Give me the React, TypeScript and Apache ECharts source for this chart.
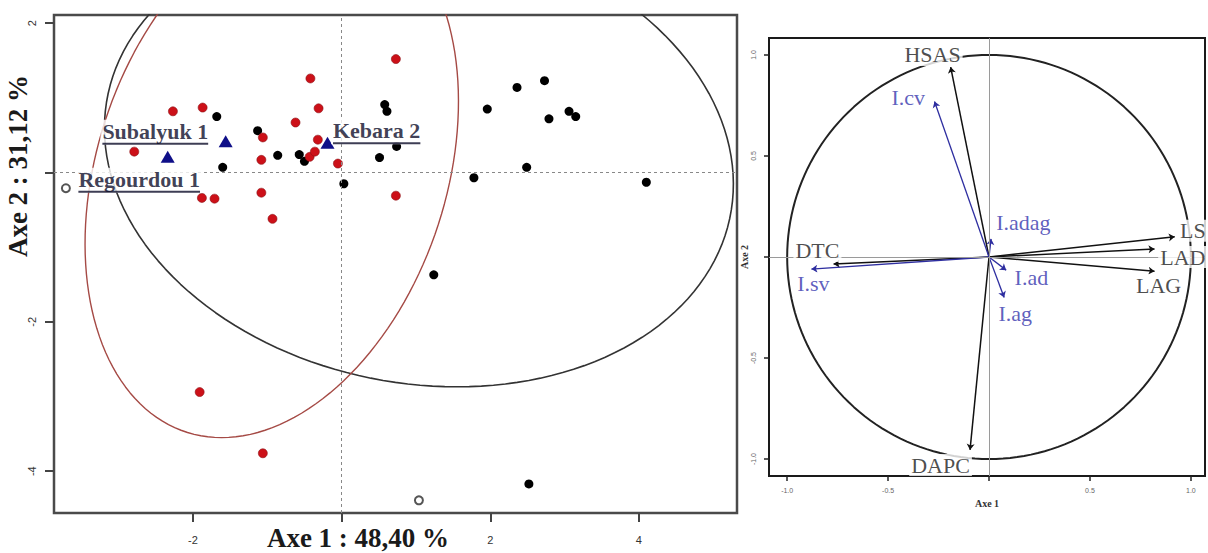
import React, { useEffect, useRef } from 'react';
import * as echarts from 'echarts';

// ---------- Left panel: individuals (Axe 1 x Axe 2) ----------
const X_TICKS = [-2, 0, 2, 4];
const X_TICK_LABELS = [-2, 2, 4];
const Y_TICKS = [-4, -2, 0, 2];
const Y_TICK_LABELS = [-4, -2, 2];

const blackPoints: number[][] = [
  [-1.13, 0.56], [-0.86, 0.23], [-0.57, 0.24], [-0.5, 0.15], [-1.6, 0.07],
  [0.51, 0.2], [0.03, -0.15], [-1.68, 0.75], [0.58, 0.91], [0.61, 0.82],
  [0.74, 0.35], [1.96, 0.85], [2.36, 1.14], [2.73, 1.23], [2.79, 0.72],
  [3.06, 0.82], [3.15, 0.75], [2.49, 0.07], [1.78, -0.07], [4.1, -0.13],
  [1.24, -1.37], [2.52, -4.17],
];
const redPoints: number[][] = [
  [-2.79, 0.28], [-2.27, 0.82], [-1.87, 0.87], [-1.88, -0.34], [-1.71, -0.35],
  [-1.08, -0.27], [-0.93, -0.62], [-1.08, 0.17], [-1.06, 0.47], [-0.62, 0.67],
  [-0.42, 1.26], [-0.31, 0.86], [-0.32, 0.44], [-0.43, 0.21], [-0.36, 0.28],
  [-0.05, 0.12], [0.73, 1.52], [0.73, -0.31], [-1.91, -2.94], [-1.06, -3.76],
];
const greyPoints: number[][] = [[-3.71, -0.21], [1.04, -4.39]];
const trianglePoints: number[][] = [[-2.34, 0.21], [-1.56, 0.42], [-0.19, 0.4]];

// labelled specimens: name and the point they belong to
const specimenNames = ['Subalyuk 1', 'Kebara 2', 'Regourdou 1'];
const specimenAnchors: number[][] = [trianglePoints[1], trianglePoints[2], greyPoints[0]];

// ellipse shape parameters (centre, half-width at centre, half-height, shear)
const blackEllipse = { cx: 1.04, cy: 0.22, rx: 4.2, ry: 3.09, shear: -0.166 };
const redEllipse = { cx: -0.94, cy: 0.0, rx: 2.42, ry: 3.55, shear: 0.19 };

// ---------- Right panel: correlation circle ----------
const C_TICKS = [-1, -0.5, 0, 0.5, 1];
const C_TICK_LABELS = [-1, -0.5, 0.5, 1];

const varNames = ['HSAS', 'LS', 'LAD', 'LAG', 'DTC', 'DAPC'];
const varX = [-0.19, 0.92, 0.82, 0.82, -0.77, -0.094];
const varY = [0.94, 0.1, 0.04, -0.07, -0.035, -0.955];
const varLabelX = [-0.28, 1.01, 0.96, 0.84, -0.85, -0.24];
const varLabelY = [1.0, 0.13, 0.0, -0.14, 0.03, -1.03];

const idxNames = ['I.cv', 'I.adag', 'I.sv', 'I.ad', 'I.ag'];
const idxX = [-0.27, 0.01, -0.88, 0.085, 0.075];
const idxY = [0.77, 0.09, -0.06, -0.065, -0.2];
const idxLabelX = [-0.4, 0.17, -0.87, 0.21, 0.13];
const idxLabelY = [0.79, 0.17, -0.13, -0.1, -0.28];

const CIRCLE_RADIUS = 1;

function ellipseLine(e: { cx: number; cy: number; rx: number; ry: number; shear: number }) {
  const pts: number[][] = [];
  const n = 160;
  for (let i = 0; i <= n; i++) {
    const t = (i / n) * Math.PI * 2;
    pts.push([e.cx + e.rx * Math.cos(t) + e.shear * e.ry * Math.sin(t), e.cy + e.ry * Math.sin(t)]);
  }
  return pts;
}

function circleLine(r: number) {
  const pts: number[][] = [];
  const n = 180;
  for (let i = 0; i <= n; i++) {
    const t = (i / n) * Math.PI * 2;
    pts.push([r * Math.cos(t), r * Math.sin(t)]);
  }
  return pts;
}

const SERIF = '"Liberation Serif", "DejaVu Serif", serif';
const SANS = '"Liberation Sans", Arial, sans-serif';

export default function App() {
  const ref = useRef<HTMLDivElement>(null);

  useEffect(() => {
    if (!ref.current) return;
    const chart = echarts.init(ref.current, undefined, { renderer: 'svg' });

    const labelCfg = [
      { position: 'left', distance: 15, offset: [0, -9] },
      { position: 'right', distance: 3, offset: [0, -11] },
      { position: 'right', distance: 10, offset: [0, -8] },
    ];

    const specimenData = specimenNames.map((name, i) => ({
      name,
      value: specimenAnchors[i],
      label: {
        show: true,
        position: labelCfg[i].position,
        distance: labelCfg[i].distance,
        offset: labelCfg[i].offset,
      },
    }));

    const option: any = {
      animation: false,
      backgroundColor: '#ffffff',
      grid: [
        { left: 54, top: 15, width: 683, height: 498, show: true, borderColor: '#4a4a4a', borderWidth: 2.5, backgroundColor: 'transparent' },
        { left: 769, top: 38, width: 436, height: 438, show: true, borderColor: '#1a1a1a', borderWidth: 2, backgroundColor: 'transparent' },
      ],
      xAxis: [
        {
          gridIndex: 0, type: 'value', min: -3.87, max: 5.32, position: 'bottom',
          axisLine: { show: false, onZero: false },
          splitLine: { show: false },
          axisTick: { show: true, inside: false, length: 9, customValues: X_TICKS, lineStyle: { color: '#444', width: 2 } },
          axisLabel: { customValues: X_TICK_LABELS, margin: 21, fontSize: 11, color: '#333', fontFamily: SANS },
        },
        {
          gridIndex: 1, type: 'value', min: -1.09, max: 1.07, position: 'bottom',
          name: 'Axe 1', nameLocation: 'middle', nameGap: 17,
          nameTextStyle: { fontSize: 10, fontWeight: 'bold', fontFamily: SERIF, color: '#333' },
          axisLine: { show: false, onZero: false },
          splitLine: { show: false },
          axisTick: { show: true, inside: false, length: 5, customValues: C_TICKS, lineStyle: { color: '#222', width: 1.5 } },
          axisLabel: { customValues: C_TICK_LABELS, margin: 11, fontSize: 7, color: '#666', fontFamily: SANS, formatter: (v: number) => v.toFixed(1) },
        },
      ],
      yAxis: [
        {
          gridIndex: 0, type: 'value', min: -4.56, max: 2.11, position: 'left',
          axisLine: { show: false, onZero: false },
          splitLine: { show: false },
          axisTick: { show: true, inside: false, length: 9, customValues: Y_TICKS, lineStyle: { color: '#444', width: 2 } },
          axisLabel: { customValues: Y_TICK_LABELS, rotate: 90, margin: 17, fontSize: 11, color: '#333', fontFamily: SANS },
        },
        {
          gridIndex: 1, type: 'value', min: -1.084, max: 1.084, position: 'left',
          name: 'Axe 2', nameLocation: 'middle', nameGap: 9, nameRotate: 90,
          nameTextStyle: { fontSize: 10, fontWeight: 'bold', fontFamily: SERIF, color: '#333' },
          axisLine: { show: false, onZero: false },
          splitLine: { show: false },
          axisTick: { show: true, inside: false, length: 5, customValues: C_TICKS, lineStyle: { color: '#222', width: 1.5 } },
          axisLabel: { customValues: C_TICK_LABELS, rotate: 90, margin: 12, fontSize: 7, color: '#666', fontFamily: SANS, formatter: (v: number) => v.toFixed(1) },
        },
      ],
      graphic: [
        {
          type: 'text', x: 18, y: 166, rotation: Math.PI / 2,
          style: { text: 'Axe 2 : 31,12 %', fontSize: 27, fontWeight: 'bold', fontFamily: SERIF, fill: '#1a1a1a', textAlign: 'center', textVerticalAlign: 'middle' },
        },
        {
          type: 'text', x: 358, y: 538,
          style: { text: 'Axe 1 : 48,40 %', fontSize: 27, fontWeight: 'bold', fontFamily: SERIF, fill: '#1a1a1a', textAlign: 'center', textVerticalAlign: 'middle' },
        },
      ],
      series: [
        // ----- left panel -----
        {
          type: 'line', xAxisIndex: 0, yAxisIndex: 0, data: ellipseLine(blackEllipse),
          showSymbol: false, symbol: 'none', silent: true, z: 1,
          lineStyle: { color: '#333', width: 1.6 },
          markLine: {
            silent: true, symbol: ['none', 'none'], label: { show: false },
            lineStyle: { color: '#888', type: [3, 3], width: 1 },
            data: [{ xAxis: 0 }, { yAxis: 0 }],
          },
        },
        {
          type: 'line', xAxisIndex: 0, yAxisIndex: 0, data: ellipseLine(redEllipse),
          showSymbol: false, symbol: 'none', silent: true, z: 1,
          lineStyle: { color: '#a54a45', width: 1.4 },
        },
        {
          type: 'scatter', xAxisIndex: 0, yAxisIndex: 0, data: blackPoints, z: 2,
          symbol: 'circle', symbolSize: 9, itemStyle: { color: '#000000', opacity: 1 },
        },
        {
          type: 'scatter', xAxisIndex: 0, yAxisIndex: 0, data: redPoints, z: 3,
          symbol: 'circle', symbolSize: 9, itemStyle: { color: '#cc1018', borderColor: '#8c1015', borderWidth: 0.6, opacity: 1 },
        },
        {
          type: 'scatter', xAxisIndex: 0, yAxisIndex: 0, data: greyPoints, z: 3,
          symbol: 'circle', symbolSize: 8, itemStyle: { color: '#ffffff', borderColor: '#555', borderWidth: 2, opacity: 1 },
        },
        {
          type: 'scatter', xAxisIndex: 0, yAxisIndex: 0, data: trianglePoints, z: 4,
          symbol: 'triangle', symbolSize: [14, 12], itemStyle: { color: '#0f0f88', opacity: 1 },
        },
        {
          type: 'scatter', xAxisIndex: 0, yAxisIndex: 0, data: specimenData, z: 6,
          symbolSize: 1, itemStyle: { color: 'rgba(0,0,0,0)' },
          label: {
            show: true,
            formatter: (p: any) => `{t|${p.name}}\n{u|}`,
            backgroundColor: '#ffffff',
            padding: [0, 2, 0, 2],
            rich: {
              t: { fontFamily: SERIF, fontWeight: 'bold', fontSize: 22, color: '#0e0e2a', lineHeight: 23 },
              u: { width: '100%', height: 2, lineHeight: 2, backgroundColor: '#0e0e2a' },
            },
          },
        },
        // ----- right panel -----
        {
          type: 'line', xAxisIndex: 1, yAxisIndex: 1, data: circleLine(CIRCLE_RADIUS),
          showSymbol: false, symbol: 'none', silent: true, z: 2,
          lineStyle: { color: '#222', width: 2 },
          markLine: {
            silent: true, symbol: ['none', 'none'], label: { show: false },
            lineStyle: { color: '#9a9a9a', type: 'solid', width: 1 },
            data: [{ xAxis: 0 }, { yAxis: 0 }],
          },
        },
        {
          type: 'lines', coordinateSystem: 'cartesian2d', xAxisIndex: 1, yAxisIndex: 1, z: 3,
          symbol: ['none', 'arrow'], symbolSize: 6, silent: true,
          lineStyle: { color: '#111', width: 1.5, opacity: 1 },
          data: varNames.map((n, i) => ({ name: n, coords: [[0, 0], [varX[i], varY[i]]] })),
        },
        {
          type: 'lines', coordinateSystem: 'cartesian2d', xAxisIndex: 1, yAxisIndex: 1, z: 3,
          symbol: ['none', 'arrow'], symbolSize: 6, silent: true,
          lineStyle: { color: '#2e2ea0', width: 1.3, opacity: 1 },
          data: idxNames.map((n, i) => ({ name: n, coords: [[0, 0], [idxX[i], idxY[i]]] })),
        },
        {
          type: 'scatter', xAxisIndex: 1, yAxisIndex: 1, z: 5,
          symbolSize: 1, itemStyle: { color: 'rgba(0,0,0,0)' },
          data: varNames.map((n, i) => ({ name: n, value: [varLabelX[i], varLabelY[i]] })),
          label: {
            show: true, position: 'inside', formatter: '{b}',
            fontFamily: SERIF, fontSize: 22, color: '#1e1e1e',
            backgroundColor: '#ffffff', padding: [0, 2, 0, 2],
          },
        },
        {
          type: 'scatter', xAxisIndex: 1, yAxisIndex: 1, z: 5,
          symbolSize: 1, itemStyle: { color: 'rgba(0,0,0,0)' },
          data: idxNames.map((n, i) => ({ name: n, value: [idxLabelX[i], idxLabelY[i]] })),
          label: {
            show: true, position: 'inside', formatter: '{b}',
            fontFamily: SERIF, fontSize: 22, color: '#3636ad',
            backgroundColor: '#ffffff', padding: [0, 2, 0, 2],
          },
        },
      ],
    };

    chart.setOption(option);
    return () => chart.dispose();
  }, []);

  return (
    <div
      ref={ref}
      style={{ position: 'absolute', left: 0, top: 0, width: 1208, height: 553, background: '#fff' }}
    />
  );
}
